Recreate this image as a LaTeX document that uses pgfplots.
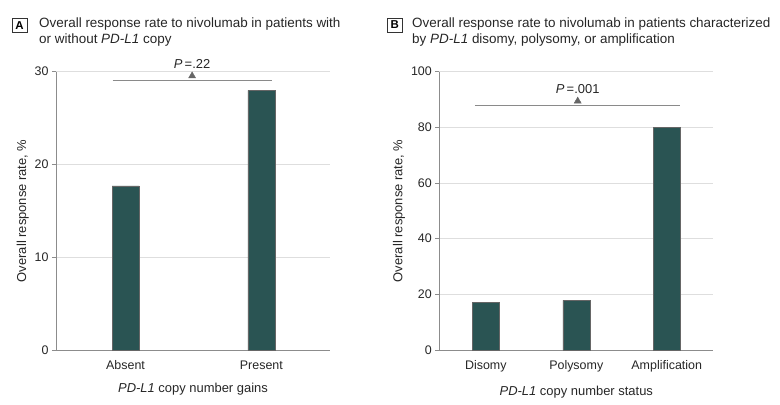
\documentclass[border=0pt]{standalone}
\usepackage{pgfplots}
\pgfplotsset{compat=1.18}
\usepackage{fontspec}
\setmainfont{Liberation Sans}
\definecolor{barc}{HTML}{2A5453}
\definecolor{gridc}{HTML}{DEDEDE}
\definecolor{axc}{HTML}{8C8C8C}
\definecolor{annc}{HTML}{8A8A8A}
\pgfplotsset{
  panel/.style={
    scale only axis, width=274bp, height=278.3bp,
    axis x line=bottom, axis y line=left,
    axis line style={-, draw=axc, line width=0.8pt},
    ymin=0, ymajorgrids, grid style={draw=gridc, line width=0.7pt},
    tick align=outside, major tick length=4bp,
    ytick style={draw=axc, line width=0.7pt},
    xtick style={draw=none},
    ticklabel style={font=\fontsize{12.5}{14}\selectfont, text=black!85},
    xticklabel style={yshift=-3bp},
    /pgf/number format/assume math mode=true,
    label style={font=\fontsize{13}{15}\selectfont, text=black!85},
    ylabel={Overall response rate, \%},
    clip=false,
    xtick={0,1,2},
  },
  barst/.style={ybar, bar width=27bp, fill=barc, draw=black!60, line width=0.4pt},
}
\begin{document}
\begin{tikzpicture}
\path[use as bounding box] (0,0) rectangle (780bp,405bp);
% Panel titles
\node[draw=black!80, line width=0.7pt, minimum width=15bp, minimum height=14bp, inner sep=0pt, font=\bfseries\fontsize{11.5}{12}\selectfont] at (19.5bp,379.7bp) {A};
\node[anchor=base west, font=\fontsize{13.5}{16}\selectfont, text=black!85, inner sep=0pt] at (39bp,377bp) {Overall response rate to nivolumab in patients with};
\node[anchor=base west, font=\fontsize{13.5}{16}\selectfont, text=black!85, inner sep=0pt] at (39bp,361bp) {or without \textit{PD-L1} copy};
\node[draw=black!80, line width=0.7pt, minimum width=15bp, minimum height=14bp, inner sep=0pt, font=\bfseries\fontsize{11.5}{12}\selectfont] at (394.7bp,380bp) {B};
\node[anchor=base west, font=\fontsize{13.5}{16}\selectfont, text=black!85, inner sep=0pt] at (412bp,377bp) {Overall response rate to nivolumab in patients characterized};
\node[anchor=base west, font=\fontsize{13.5}{16}\selectfont, text=black!85, inner sep=0pt] at (412bp,361bp) {by \textit{PD-L1} disomy, polysomy, or amplification};

% Panel A
\begin{axis}[panel, at={(56bp,55bp)}, anchor=south west,
  xmin=-0.512, xmax=1.505, ymax=30, ytick={0,10,20,30},
  xticklabels={Absent,Present},
  xlabel={\textit{PD-L1} copy number gains},
  xlabel style={yshift=-7bp}, ylabel style={yshift=-1bp}]
\addplot[barst] coordinates {(0,17.7) (1,28.0)};
\addplot[annc, line width=0.8pt, no marks] coordinates {(-0.096,29.1) (1.08,29.1)};
\addplot[only marks, mark=triangle*, mark size=4bp, color=black!60] coordinates {(0.49,29.55)};
\node[anchor=base, font=\fontsize{13}{15}\selectfont, text=black!85] at (axis cs:0.49,30.3) {\textit{P}\,=.22};
\end{axis}

% Panel B
\begin{axis}[panel, at={(439.3bp,55bp)}, anchor=south west,
  xmin=-0.514, xmax=2.515, ymax=100, ytick={0,20,40,60,80,100},
  xticklabels={Disomy,Polysomy,Amplification},
  xlabel={\textit{PD-L1} copy number status},
  xlabel style={yshift=-7bp}, ylabel style={yshift=-1bp}]
\addplot[barst] coordinates {(0,17.1) (1,17.8) (2,80)};
\addplot[annc, line width=0.8pt, no marks] coordinates {(-0.12,88.0) (2.15,88.0)};
\addplot[only marks, mark=triangle*, mark size=4bp, color=black!60] coordinates {(1.016,89.45)};
\node[anchor=base, font=\fontsize{13}{15}\selectfont, text=black!85] at (axis cs:1.016,92.3) {\textit{P}\,=.001};
\end{axis}
\end{tikzpicture}
\end{document}
